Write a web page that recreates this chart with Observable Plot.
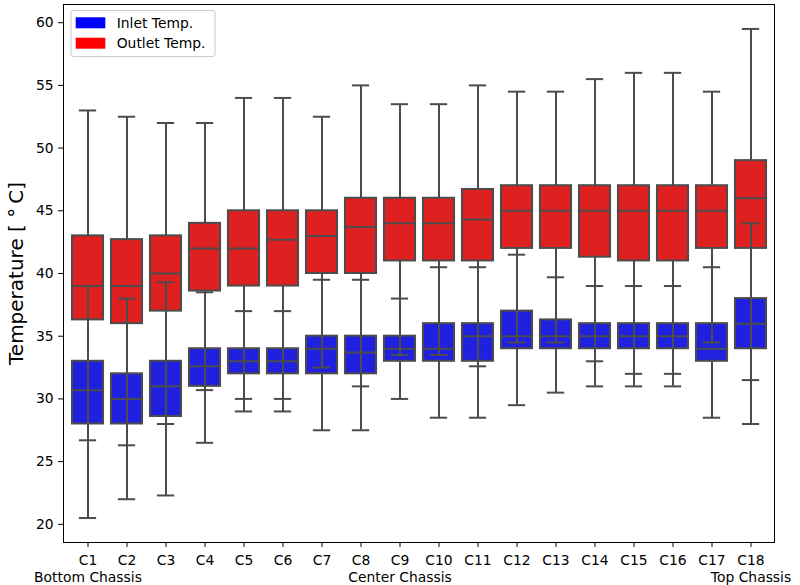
<!DOCTYPE html>
<html>
<head>
<meta charset="utf-8">
<script src="https://cdn.jsdelivr.net/npm/d3@7"></script>
<script src="https://cdn.jsdelivr.net/npm/@observablehq/plot@0.6"></script>
<style>
  body { margin: 0; background: #fff; }
  svg { display: block; }
</style>
</head>
<body>
<div id="chart"></div>
<script>
// Chassis positions, bottom to top of the rack
const chassis = ["C1","C2","C3","C4","C5","C6","C7","C8","C9","C10","C11","C12","C13","C14","C15","C16","C17","C18"];
const tickLabels = ["C1\nBottom Chassis","C2","C3","C4","C5","C6","C7","C8","C9\nCenter Chassis","C10","C11","C12","C13","C14","C15","C16","C17","C18\nTop Chassis"];
const series = ["Inlet Temp.", "Outlet Temp."];
const yTicks = [20, 25, 30, 35, 40, 45, 50, 55, 60];
const yLabel = "Temperature [ °\u2009C]";

// Inlet temperature summary per chassis (°C)
const inletMin = [20.5, 22.0, 22.3, 26.5, 29.0, 29.0, 27.5, 27.5, 30.0, 28.5, 28.5, 29.5, 30.5, 31.0, 31.0, 31.0, 28.5, 28.0];
const inletQ1  = [28.0, 28.0, 28.6, 31.0, 32.0, 32.0, 32.0, 32.0, 33.0, 33.0, 33.0, 34.0, 34.0, 34.0, 34.0, 34.0, 33.0, 34.0];
const inletMed = [30.7, 30.0, 31.0, 32.6, 33.0, 33.0, 34.0, 33.7, 34.0, 34.0, 35.0, 35.0, 35.0, 35.0, 35.0, 35.0, 34.0, 36.0];
const inletQ3  = [33.0, 32.0, 33.0, 34.0, 34.0, 34.0, 35.0, 35.0, 35.0, 36.0, 36.0, 37.0, 36.3, 36.0, 36.0, 36.0, 36.0, 38.0];
const inletMax = [39.0, 38.0, 39.3, 38.5, 37.0, 37.0, 39.5, 39.5, 38.0, 40.5, 40.5, 41.5, 39.7, 39.0, 39.0, 39.0, 40.5, 44.0];

// Outlet temperature summary per chassis (°C)
const outletMin = [26.7, 26.3, 28.0, 30.7, 30.0, 30.0, 32.5, 31.0, 33.5, 33.5, 32.6, 34.5, 34.5, 33.0, 32.0, 32.0, 34.5, 31.5];
const outletQ1  = [36.3, 36.0, 37.0, 38.6, 39.0, 39.0, 40.0, 40.0, 41.0, 41.0, 41.0, 42.0, 42.0, 41.3, 41.0, 41.0, 42.0, 42.0];
const outletMed = [39.0, 39.0, 40.0, 42.0, 42.0, 42.7, 43.0, 43.7, 44.0, 44.0, 44.3, 45.0, 45.0, 45.0, 45.0, 45.0, 45.0, 46.0];
const outletQ3  = [43.0, 42.7, 43.0, 44.0, 45.0, 45.0, 45.0, 46.0, 46.0, 46.0, 46.7, 47.0, 47.0, 47.0, 47.0, 47.0, 47.0, 49.0];
const outletMax = [53.0, 52.5, 52.0, 52.0, 54.0, 54.0, 52.5, 55.0, 53.5, 53.5, 55.0, 54.5, 54.5, 55.5, 56.0, 56.0, 54.5, 59.5];

// Long table: one row per chassis and series
const rows = [];
chassis.forEach((c, i) => {
  rows.push({chassis: c, series: series[0], min: inletMin[i], q1: inletQ1[i], med: inletMed[i], q3: inletQ3[i], max: inletMax[i]});
  rows.push({chassis: c, series: series[1], min: outletMin[i], q1: outletQ1[i], med: outletMed[i], q3: outletQ3[i], max: outletMax[i]});
});

const W = 800, H = 585;
const mL = 63, mR = 26, mT = 4, mB = 43;
const bandW = (W - mL - mR) / chassis.length;
const boxInset = bandW * 0.1;   // boxes take 80% of each slot
const capInset = bandW * 0.3;   // caps are half a box wide
const edge = "#4c4c4c";
const lw = 2;
const labelFor = new Map(chassis.map((c, i) => [c, tickLabels[i]]));

const chart = Plot.plot({
  width: W,
  height: H,
  marginLeft: mL,
  marginRight: mR,
  marginTop: mT,
  marginBottom: mB,
  style: {fontFamily: "DejaVu Sans", fontSize: "13.89px", color: "#000", background: "#fff"},
  x: {type: "band", domain: chassis, padding: 0, label: null},
  y: {domain: [18.55, 61.45], label: null},
  color: {domain: series, range: ["#2020df", "#df2020"]},
  marks: [
    // boxes (drawn beneath all lines)
    Plot.barY(rows, {x: "chassis", y1: "q1", y2: "q3", fill: "series", stroke: edge, strokeWidth: lw,
                     insetLeft: boxInset, insetRight: boxInset}),
    // whiskers
    Plot.ruleX(rows, {x: "chassis", y1: "q3", y2: "max", stroke: edge, strokeWidth: lw}),
    Plot.ruleX(rows, {x: "chassis", y1: "min", y2: "q1", stroke: edge, strokeWidth: lw}),
    // caps
    Plot.tickY(rows, {x: "chassis", y: "max", stroke: edge, strokeWidth: lw, strokeLinecap: "square",
                      insetLeft: capInset, insetRight: capInset}),
    Plot.tickY(rows, {x: "chassis", y: "min", stroke: edge, strokeWidth: lw, strokeLinecap: "square",
                      insetLeft: capInset, insetRight: capInset}),
    // medians
    Plot.tickY(rows, {x: "chassis", y: "med", stroke: edge, strokeWidth: lw, strokeLinecap: "square",
                      insetLeft: boxInset, insetRight: boxInset}),
    Plot.frame({stroke: "#000", strokeWidth: 1}),
    Plot.axisY({ticks: yTicks, tickSize: 4.9, tickPadding: 4.9, label: null}),
    Plot.axisX({tickSize: 4.9, tickPadding: 6.5, lineHeight: 1.17, label: null,
                tickFormat: d => labelFor.get(d)}),
    Plot.text([yLabel], {frameAnchor: "left", textAnchor: "middle", rotate: -90, dx: -47,
                         fontSize: 20, fill: "#000"})
  ]
});

document.getElementById("chart").appendChild(chart);

// Legend box in the upper-left corner of the plot area
const legendColors = ["#0000ff", "#ff0000"];
const svg = d3.select(chart);
const lg = svg.append("g")
  .attr("font-family", "DejaVu Sans")
  .attr("font-size", 13.89)
  .attr("text-anchor", "start");
lg.append("rect")
  .attr("x", 71).attr("y", 10.5).attr("width", 144).attr("height", 46)
  .attr("rx", 2.5)
  .attr("fill", "#fff").attr("fill-opacity", 0.8)
  .attr("stroke", "#cccccc").attr("stroke-width", 1);
series.forEach((s, i) => {
  lg.append("rect")
    .attr("x", 75.7).attr("y", 17.3 + i * 20.4)
    .attr("width", 29.6).attr("height", 11)
    .attr("fill", legendColors[i]);
  lg.append("text")
    .attr("x", 116.7).attr("y", 22.8 + i * 20.4)
    .attr("dy", "0.35em")
    .attr("fill", "#000")
    .text(s);
});
</script>
</body>
</html>
